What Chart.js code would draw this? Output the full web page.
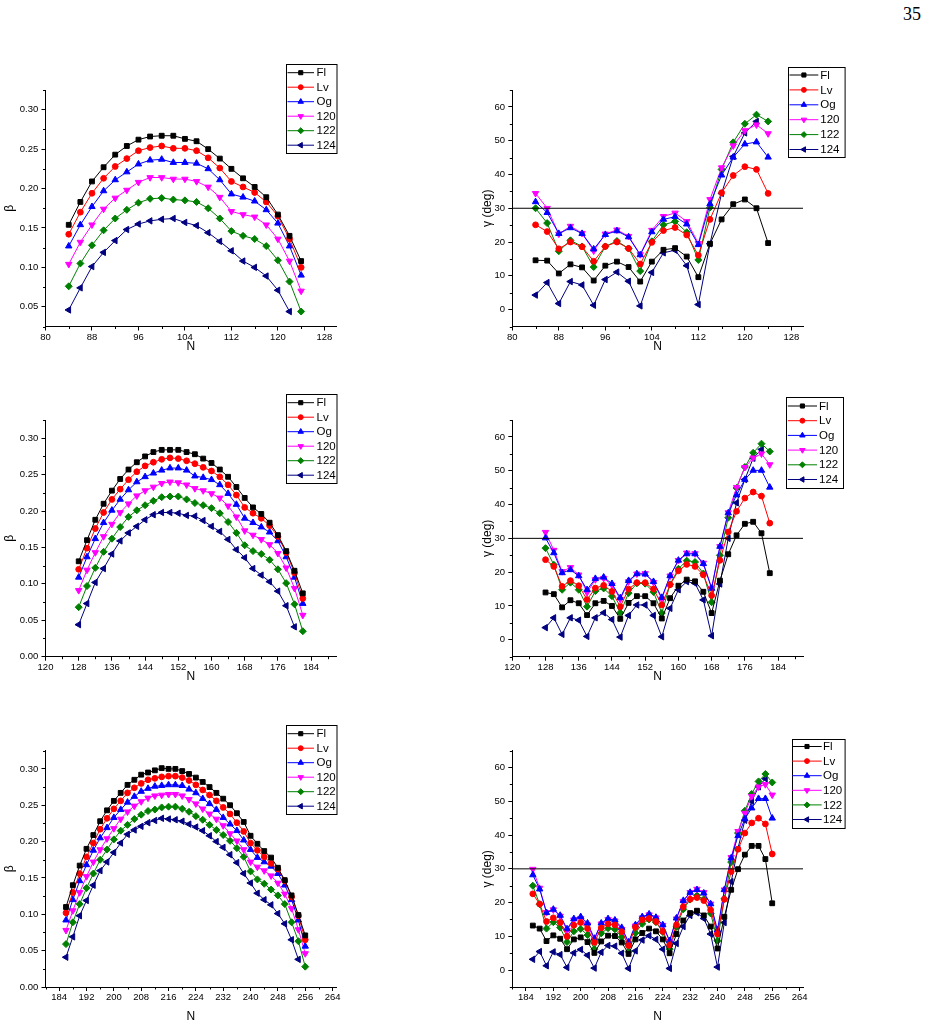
<!DOCTYPE html>
<html>
<head>
<meta charset="utf-8">
<script src="https://cdn.jsdelivr.net/npm/chart.js@4.4.0/dist/chart.umd.min.js"></script>
<style>
  body { margin: 0; background: #fff; width: 930px; height: 1027px; position: relative; overflow: hidden; }
  canvas { position: absolute; }
  #page { position: absolute; left: 903px; top: 4px; font: 18px "Liberation Serif", "DejaVu Serif", serif; color: #000; }
</style>
</head>
<body>
<div id="page">35</div>
<canvas id="c1" width="350" height="302" style="left:0px;top:55px"></canvas>
<canvas id="c2" width="395" height="302" style="left:460px;top:55px"></canvas>
<canvas id="c3" width="350" height="302" style="left:0px;top:385px"></canvas>
<canvas id="c4" width="395" height="302" style="left:460px;top:385px"></canvas>
<canvas id="c5" width="350" height="312" style="left:0px;top:715px"></canvas>
<canvas id="c6" width="395" height="312" style="left:460px;top:715px"></canvas>
<script>
// neutron numbers for the three chains
const nA = [84, 86, 88, 90, 92, 94, 96, 98, 100, 102, 104, 106, 108, 110, 112, 114, 116, 118, 120, 122, 124];
const nB = [128, 130, 132, 134, 136, 138, 140, 142, 144, 146, 148, 150, 152, 154, 156, 158, 160, 162, 164, 166, 168, 170, 172, 174, 176, 178, 180, 182];
const nC = [186, 188, 190, 192, 194, 196, 198, 200, 202, 204, 206, 208, 210, 212, 214, 216, 218, 220, 222, 224, 226, 228, 230, 232, 234, 236, 238, 240, 242, 244, 246, 248, 250, 252, 254, 256];

const seriesNames = ['Fl', 'Lv', 'Og', '120', '122', '124'];

// beta, first chain
const betaA_Fl  = [0.154, 0.183, 0.209, 0.227, 0.243, 0.254, 0.262, 0.266, 0.267, 0.267, 0.263, 0.260, 0.250, 0.238, 0.225, 0.213, 0.202, 0.189, 0.167, 0.140, 0.108];
const betaA_Lv  = [0.142, 0.170, 0.194, 0.213, 0.228, 0.238, 0.248, 0.252, 0.254, 0.251, 0.251, 0.248, 0.239, 0.226, 0.209, 0.202, 0.195, 0.183, 0.165, 0.136, 0.100];
const betaA_Og  = [0.127, 0.154, 0.177, 0.197, 0.211, 0.221, 0.231, 0.236, 0.237, 0.233, 0.233, 0.232, 0.225, 0.211, 0.193, 0.189, 0.184, 0.173, 0.156, 0.127, 0.090];
const betaA_120 = [0.104, 0.132, 0.154, 0.174, 0.188, 0.198, 0.208, 0.214, 0.214, 0.212, 0.212, 0.209, 0.202, 0.189, 0.171, 0.167, 0.164, 0.154, 0.136, 0.108, 0.070];
const betaA_122 = [0.076, 0.105, 0.128, 0.147, 0.162, 0.173, 0.182, 0.187, 0.188, 0.186, 0.185, 0.183, 0.175, 0.162, 0.146, 0.140, 0.136, 0.127, 0.109, 0.082, 0.044];
const betaA_124 = [0.046, 0.074, 0.101, 0.119, 0.134, 0.148, 0.155, 0.159, 0.161, 0.162, 0.157, 0.153, 0.144, 0.133, 0.121, 0.108, 0.100, 0.089, 0.071, 0.044];

// gamma, first chain
const gammaA_Fl  = [14.6, 14.5, 10.7, 13.4, 12.5, 8.6, 13.0, 14.2, 12.6, 8.3, 14.2, 17.7, 18.2, 15.7, 9.6, 19.5, 26.7, 31.2, 32.6, 30.0, 19.7];
const gammaA_Lv  = [25.1, 23.1, 18.0, 20.0, 18.6, 14.3, 18.7, 20.0, 18.1, 13.5, 19.9, 23.4, 24.3, 22.1, 16.1, 26.7, 34.6, 39.7, 42.3, 41.5, 34.4];
const gammaA_Og  = [31.9, 28.7, 22.5, 24.2, 22.5, 17.9, 22.2, 23.3, 21.5, 16.2, 23.0, 26.7, 27.5, 25.3, 19.2, 31.3, 39.8, 45.1, 49.0, 49.6, 45.1];
const gammaA_120 = [34.4, 30.0, 22.4, 24.7, 22.6, 17.4, 22.4, 23.6, 21.7, 16.3, 23.5, 27.6, 28.6, 26.1, 19.6, 32.6, 42.0, 48.5, 53.0, 54.7, 52.1];
const gammaA_122 = [30.0, 25.6, 17.3, 20.5, 18.7, 12.6, 18.7, 20.3, 18.1, 11.4, 20.2, 25.1, 26.1, 22.9, 14.7, 30.2, 41.5, 49.5, 55.0, 57.7, 55.7];
const gammaA_124 = [4.3, 8.0, 1.8, 8.3, 7.3, 1.3, 8.9, 11.1, 8.4, 1.1, 11.0, 16.8, 17.6, 13.0, 1.5, 19.5, 34.4, 45.3, 52.3, 55.7];

// beta, second chain
const betaB_Fl  = [0.131, 0.160, 0.188, 0.210, 0.228, 0.244, 0.257, 0.267, 0.275, 0.281, 0.284, 0.284, 0.284, 0.281, 0.278, 0.272, 0.266, 0.257, 0.247, 0.233, 0.218, 0.205, 0.196, 0.184, 0.167, 0.145, 0.118, 0.087];
const betaB_Lv  = [0.120, 0.149, 0.176, 0.198, 0.216, 0.230, 0.243, 0.254, 0.262, 0.267, 0.271, 0.273, 0.272, 0.269, 0.265, 0.260, 0.255, 0.247, 0.236, 0.222, 0.205, 0.197, 0.190, 0.180, 0.165, 0.143, 0.115, 0.080];
const betaB_Og  = [0.109, 0.137, 0.162, 0.184, 0.201, 0.216, 0.229, 0.240, 0.247, 0.252, 0.256, 0.259, 0.259, 0.256, 0.248, 0.246, 0.243, 0.236, 0.224, 0.209, 0.190, 0.184, 0.178, 0.171, 0.159, 0.137, 0.109, 0.073];
const betaB_120 = [0.091, 0.119, 0.143, 0.165, 0.182, 0.198, 0.210, 0.221, 0.228, 0.233, 0.238, 0.240, 0.239, 0.236, 0.231, 0.228, 0.224, 0.218, 0.207, 0.192, 0.173, 0.167, 0.161, 0.154, 0.142, 0.122, 0.094, 0.057];
const betaB_122 = [0.068, 0.097, 0.122, 0.144, 0.162, 0.178, 0.192, 0.201, 0.208, 0.214, 0.219, 0.220, 0.220, 0.216, 0.211, 0.208, 0.204, 0.197, 0.185, 0.170, 0.153, 0.145, 0.141, 0.133, 0.120, 0.101, 0.072, 0.035];
const betaB_124 = [0.044, 0.073, 0.102, 0.121, 0.141, 0.159, 0.170, 0.179, 0.188, 0.195, 0.198, 0.198, 0.197, 0.194, 0.193, 0.187, 0.179, 0.172, 0.161, 0.147, 0.136, 0.121, 0.112, 0.103, 0.090, 0.070, 0.041];

// gamma, second chain
const gammaB_Fl  = [14.0, 13.5, 9.6, 11.7, 10.8, 7.3, 10.8, 11.5, 10.0, 6.2, 10.9, 12.9, 12.9, 10.8, 6.3, 12.3, 16.0, 17.8, 17.3, 14.2, 7.9, 17.5, 25.3, 30.9, 34.3, 34.9, 31.5, 19.7];
const gammaB_Lv  = [23.7, 21.7, 15.8, 17.5, 16.0, 11.9, 15.3, 16.1, 14.3, 9.8, 15.0, 16.9, 16.9, 15.0, 10.3, 16.3, 20.4, 22.3, 21.7, 19.2, 13.1, 23.5, 31.9, 38.0, 41.9, 43.7, 42.5, 34.5];
const gammaB_Og  = [30.1, 25.7, 19.8, 20.7, 18.9, 14.8, 18.1, 18.5, 16.6, 12.4, 17.5, 19.5, 19.4, 17.2, 12.5, 18.9, 23.5, 25.4, 25.4, 22.5, 15.2, 27.6, 37.5, 42.8, 47.4, 50.1, 50.1, 45.1];
const gammaB_120 = [31.8, 26.5, 20.2, 21.4, 19.2, 14.0, 17.8, 18.2, 16.2, 12.0, 17.2, 19.5, 19.6, 17.0, 12.1, 18.9, 23.5, 25.7, 25.5, 22.7, 15.3, 27.6, 37.6, 45.1, 51.0, 53.8, 55.0, 51.8];
const gammaB_122 = [27.1, 22.2, 14.8, 16.9, 14.8, 9.8, 14.4, 15.2, 12.9, 8.0, 13.8, 16.7, 16.6, 14.1, 7.9, 16.4, 21.0, 23.4, 23.0, 19.6, 11.1, 25.0, 36.1, 44.9, 51.1, 55.3, 58.0, 55.7];
const gammaB_124 = [3.6, 6.5, 1.6, 6.5, 5.8, 1.0, 6.5, 8.0, 6.0, 0.8, 7.2, 10.3, 10.3, 7.2, 0.9, 9.3, 14.8, 17.2, 16.7, 11.8, 1.2, 16.5, 30.0, 40.5, 47.4, 53.7, 56.3];

// beta, third chain
const betaC_Fl  = [0.110, 0.140, 0.167, 0.190, 0.209, 0.228, 0.243, 0.256, 0.267, 0.278, 0.285, 0.292, 0.295, 0.298, 0.301, 0.300, 0.300, 0.297, 0.293, 0.288, 0.282, 0.275, 0.267, 0.259, 0.250, 0.239, 0.227, 0.208, 0.197, 0.187, 0.178, 0.164, 0.147, 0.126, 0.099, 0.071];
const betaC_Lv  = [0.102, 0.130, 0.156, 0.179, 0.198, 0.217, 0.232, 0.245, 0.256, 0.267, 0.274, 0.280, 0.285, 0.287, 0.289, 0.290, 0.290, 0.288, 0.284, 0.278, 0.271, 0.264, 0.256, 0.247, 0.238, 0.226, 0.214, 0.198, 0.188, 0.179, 0.170, 0.162, 0.146, 0.124, 0.098, 0.065];
const betaC_Og  = [0.092, 0.120, 0.146, 0.168, 0.188, 0.205, 0.219, 0.233, 0.244, 0.254, 0.262, 0.269, 0.273, 0.276, 0.277, 0.278, 0.278, 0.277, 0.272, 0.267, 0.259, 0.252, 0.244, 0.233, 0.224, 0.215, 0.202, 0.189, 0.178, 0.172, 0.166, 0.156, 0.140, 0.120, 0.092, 0.056];
const betaC_120 = [0.078, 0.105, 0.130, 0.152, 0.172, 0.189, 0.204, 0.218, 0.231, 0.241, 0.249, 0.255, 0.260, 0.263, 0.264, 0.265, 0.265, 0.263, 0.258, 0.252, 0.245, 0.238, 0.231, 0.222, 0.211, 0.201, 0.189, 0.172, 0.165, 0.160, 0.153, 0.143, 0.128, 0.108, 0.079, 0.046];
const betaC_122 = [0.059, 0.089, 0.114, 0.136, 0.156, 0.175, 0.189, 0.203, 0.215, 0.223, 0.231, 0.237, 0.242, 0.244, 0.247, 0.248, 0.248, 0.245, 0.241, 0.235, 0.230, 0.223, 0.216, 0.209, 0.201, 0.191, 0.179, 0.159, 0.148, 0.142, 0.134, 0.126, 0.114, 0.089, 0.063, 0.028];
const betaC_124 = [0.041, 0.069, 0.098, 0.119, 0.140, 0.160, 0.172, 0.185, 0.198, 0.210, 0.216, 0.221, 0.226, 0.229, 0.232, 0.231, 0.230, 0.228, 0.224, 0.220, 0.215, 0.208, 0.200, 0.192, 0.182, 0.171, 0.156, 0.143, 0.129, 0.120, 0.113, 0.101, 0.087, 0.065, 0.038];

// gamma, third chain
const gammaC_Fl  = [13.2, 12.3, 8.6, 10.3, 9.3, 6.2, 9.1, 9.7, 8.3, 5.1, 8.5, 10.2, 10.1, 8.2, 4.8, 9.1, 11.0, 12.3, 11.5, 9.1, 5.0, 10.7, 14.7, 16.9, 17.6, 16.2, 12.9, 6.4, 15.8, 23.8, 29.9, 34.2, 36.8, 36.8, 32.9, 19.8];
const gammaC_Lv  = [22.6, 19.6, 14.4, 15.5, 14.1, 10.0, 13.3, 14.1, 12.3, 8.2, 12.5, 13.7, 13.4, 11.4, 7.3, 12.7, 14.9, 15.3, 14.4, 11.5, 7.4, 13.4, 18.8, 21.0, 21.5, 20.6, 17.8, 10.7, 21.0, 29.2, 35.8, 40.6, 43.6, 45.0, 43.3, 34.4];
const gammaC_Og  = [28.2, 24.0, 17.0, 18.0, 16.2, 12.2, 15.2, 15.8, 13.9, 9.4, 13.9, 15.2, 14.8, 12.6, 8.3, 13.4, 15.8, 16.6, 15.6, 13.4, 8.7, 15.4, 20.6, 23.0, 23.8, 22.8, 19.6, 11.9, 23.8, 33.2, 39.8, 44.8, 48.0, 50.8, 50.8, 45.0];
const gammaC_120 = [29.9, 24.3, 17.1, 17.9, 16.0, 11.8, 14.9, 15.3, 13.4, 8.9, 13.7, 15.0, 14.6, 12.1, 8.0, 13.1, 15.5, 16.4, 15.5, 13.3, 8.5, 15.2, 20.4, 23.0, 24.0, 23.0, 19.6, 10.9, 23.8, 33.4, 41.1, 46.5, 51.5, 54.3, 55.0, 51.9];
const gammaC_122 = [25.0, 19.5, 12.3, 14.2, 12.6, 8.3, 11.5, 12.2, 10.4, 6.2, 10.9, 12.4, 12.1, 9.8, 5.5, 11.0, 13.7, 15.0, 14.2, 11.3, 6.2, 12.8, 18.0, 20.9, 22.1, 21.0, 16.8, 8.7, 21.1, 32.0, 40.6, 47.2, 52.2, 55.9, 58.1, 55.6];
const gammaC_124 = [3.2, 5.5, 1.3, 5.4, 4.6, 0.8, 5.1, 6.1, 4.4, 0.6, 5.3, 7.3, 7.1, 5.0, 0.5, 5.7, 8.9, 10.2, 9.1, 6.2, 0.5, 7.9, 12.9, 16.2, 17.0, 15.3, 10.7, 0.9, 14.1, 26.2, 36.1, 44.4, 50.0, 54.3, 56.7];

// tick labels
const nTicksA = [80, 88, 96, 104, 112, 120, 128];
const nTicksB = [120, 128, 136, 144, 152, 160, 168, 176, 184];
const nTicksC = [184, 192, 200, 208, 216, 224, 232, 240, 248, 256, 264];
const betaTicksA = [0.05, 0.10, 0.15, 0.20, 0.25, 0.30];
const betaTicksBC = [0.00, 0.05, 0.10, 0.15, 0.20, 0.25, 0.30];
const gammaTicks = [0, 10, 20, 30, 40, 50, 60];
const gammaRefLine = 30;

// marker styles per series
const seriesColors = ['#000000', '#ff0000', '#0000ff', '#ff00ff', '#008000', '#000080'];
const seriesStyles = ['rect', 'circle', 'triangle', 'triangle', 'rectRot', 'triangle'];
const seriesRotation = [0, 0, 0, 180, 0, 270];
const seriesRadius = [3.4, 2.9, 3.7, 3.7, 3.5, 3.7];

const FONT = '"Liberation Sans", Arial, sans-serif';

// minor ticks + boxed legend, drawn on top
const decorPlugin = {
    id: 'decor',
    afterDraw(chart, args, opts) {
        const ctx = chart.ctx;
        const area = chart.chartArea;
        ctx.save();
        ctx.strokeStyle = '#000';
        ctx.lineWidth = 1;
        ['x', 'y'].forEach(id => {
            const s = chart.scales[id];
            const vals = s.ticks.map(t => t.value);
            const step = vals[1] - vals[0];
            for (let k = -1; k < vals.length; k++) {
                const v = vals[0] + (k + 0.5) * step;
                if (v < s.min - 1e-9 || v > s.max + 1e-9) continue;
                ctx.beginPath();
                if (id === 'x') {
                    const px = Math.round(s.getPixelForValue(v)) + 0.5;
                    ctx.moveTo(px, area.bottom);
                    ctx.lineTo(px, area.bottom + 2.5);
                } else {
                    const py = Math.round(s.getPixelForValue(v)) + 0.5;
                    ctx.moveTo(area.left - 2.5, py);
                    ctx.lineTo(area.left, py);
                }
                ctx.stroke();
            }
        });

        const lg = opts.legend;
        const ox = opts.canvasLeft, oy = opts.canvasTop;
        const bx = Math.round(lg.x - ox) + 0.5, by = Math.round(lg.y - oy) + 0.5;
        ctx.fillStyle = '#fff';
        ctx.fillRect(bx, by, lg.w, lg.h);
        ctx.strokeStyle = '#000';
        ctx.strokeRect(bx, by, lg.w, lg.h);
        ctx.font = '11.5px ' + FONT;
        ctx.textBaseline = 'middle';
        ctx.textAlign = 'left';
        let row = 0;
        chart.data.datasets.forEach(ds => {
            if (ds.isRef) return;
            const y = lg.row0 - oy + row * lg.rowH;
            row++;
            const x0 = lg.lx0 - ox, x1 = lg.lx1 - ox;
            ctx.strokeStyle = ds.borderColor;
            ctx.lineWidth = 1;
            ctx.beginPath();
            ctx.moveTo(x0, y);
            ctx.lineTo(x1, y);
            ctx.stroke();
            ctx.fillStyle = ds.borderColor;
            Chart.helpers.drawPoint(ctx, {
                pointStyle: ds.pointStyle,
                rotation: ds.pointRotation,
                radius: ds.pointRadius * 0.85,
                borderWidth: 1
            }, (x0 + x1) / 2, y);
            ctx.fillStyle = '#000';
            ctx.fillText(ds.label, lg.tx - ox, y + 0.5);
        });
        ctx.restore();
    }
};

function buildPanel(p) {
    const datasets = p.series.map((vals, i) => ({
        label: seriesNames[i],
        data: vals.map((v, j) => ({ x: p.n[j], y: v })),
        borderColor: seriesColors[i],
        backgroundColor: seriesColors[i],
        borderWidth: 1,
        pointStyle: seriesStyles[i],
        pointRotation: seriesRotation[i],
        pointRadius: seriesRadius[i],
        pointBorderWidth: 1,
        tension: 0
    }));
    if (p.ref !== null) {
        datasets.unshift({
            label: '',
            isRef: true,
            data: [{ x: p.xMin, y: p.ref }, { x: p.xMax, y: p.ref }],
            borderColor: '#000',
            borderWidth: 1,
            pointRadius: 0,
            tension: 0
        });
    }
    const el = document.getElementById(p.id);
    const cLeft = parseFloat(el.style.left), cTop = parseFloat(el.style.top);
    const cW = el.width, cH = el.height;
    const yW = p.plot.l - cLeft;
    const xH = cTop + cH - p.plot.b;

    new Chart(el.getContext('2d'), {
        type: 'line',
        data: { datasets: datasets },
        options: {
            responsive: false,
            animation: false,
            events: [],
            layout: {
                autoPadding: false,
                padding: { left: 0, top: p.plot.t - cTop, right: cLeft + cW - p.plot.r, bottom: 0 }
            },
            plugins: {
                legend: { display: false },
                tooltip: { enabled: false },
                decor: { legend: p.legend, canvasLeft: cLeft, canvasTop: cTop }
            },
            scales: {
                x: {
                    type: 'linear',
                    min: p.xMin,
                    max: p.xMax,
                    afterBuildTicks: s => { s.ticks = p.xTicks.map(v => ({ value: v })); },
                    afterFit: s => { s.height = xH; },
                    grid: { drawOnChartArea: false, drawTicks: true, tickLength: 4, color: '#000', lineWidth: 1 },
                    border: { display: true, color: '#000', width: 1 },
                    ticks: {
                        color: '#000', padding: 1, maxRotation: 0, autoSkip: false,
                        font: { family: FONT, size: 9.5 },
                        callback: v => String(v)
                    },
                    title: {
                        display: true, text: 'N', color: '#000',
                        font: { family: FONT, size: 12 },
                        padding: { top: 0, bottom: 3 }
                    }
                },
                y: {
                    type: 'linear',
                    min: p.yMin,
                    max: p.yMax,
                    afterBuildTicks: s => { s.ticks = p.yTicks.map(v => ({ value: v })); },
                    afterFit: s => { s.width = yW; },
                    grid: { drawOnChartArea: false, drawTicks: true, tickLength: 4, color: '#000', lineWidth: 1 },
                    border: { display: true, color: '#000', width: 1 },
                    ticks: {
                        color: '#000', padding: 3.3, autoSkip: false,
                        font: { family: FONT, size: 9.5 },
                        callback: v => v.toFixed(p.digits)
                    },
                    title: {
                        display: true, text: p.yTitle, color: '#000',
                        font: { family: FONT, size: 12 },
                        padding: { top: p.titleX - cLeft - 7.2, bottom: 0 }
                    }
                }
            }
        },
        plugins: [decorPlugin]
    });
}

const legendLeft = (x, y) => ({ x: x, y: y, w: 50.5, h: 89, lx0: 287.5, lx1: 314, tx: 316.5, row0: y + 8.7, rowH: 14.5 });

const panels = [
    {
        id: 'c1', n: nA, series: [betaA_Fl, betaA_Lv, betaA_Og, betaA_120, betaA_122, betaA_124],
        xMin: 80, xMax: 130, xTicks: nTicksA, yMin: 0.025, yMax: 0.325, yTicks: betaTicksA,
        yTitle: 'β', digits: 2, ref: null, titleX: 10,
        plot: { l: 45.5, t: 90, r: 336, b: 326.5 },
        legend: legendLeft(285.5, 64)
    },
    {
        id: 'c2', n: nA, series: [gammaA_Fl, gammaA_Lv, gammaA_Og, gammaA_120, gammaA_122, gammaA_124],
        xMin: 80, xMax: 130, xTicks: nTicksA, yMin: -5, yMax: 65, yTicks: gammaTicks,
        yTitle: 'γ (deg)', digits: 0, ref: gammaRefLine, titleX: 488,
        plot: { l: 512.3, t: 90, r: 803, b: 326.5 },
        legend: { x: 787.7, y: 66.7, w: 56.6, h: 90, lx0: 789.5, lx1: 818.3, tx: 820.3, row0: 75, rowH: 14.9 }
    },
    {
        id: 'c3', n: nB, series: [betaB_Fl, betaB_Lv, betaB_Og, betaB_120, betaB_122, betaB_124],
        xMin: 120, xMax: 190, xTicks: nTicksB, yMin: 0, yMax: 0.325, yTicks: betaTicksBC,
        yTitle: 'β', digits: 2, ref: null, titleX: 10,
        plot: { l: 45.5, t: 420, r: 336, b: 656.7 },
        legend: legendLeft(285.5, 394)
    },
    {
        id: 'c4', n: nB, series: [gammaB_Fl, gammaB_Lv, gammaB_Og, gammaB_120, gammaB_122, gammaB_124],
        xMin: 120, xMax: 190, xTicks: nTicksB, yMin: -5, yMax: 65, yTicks: gammaTicks,
        yTitle: 'γ (deg)', digits: 0, ref: gammaRefLine, titleX: 488,
        plot: { l: 512.3, t: 420, r: 803, b: 656.7 },
        legend: { x: 786, y: 397.3, w: 57, h: 91, lx0: 787.8, lx1: 817, tx: 819, row0: 406, rowH: 14.7 }
    },
    {
        id: 'c5', n: nC, series: [betaC_Fl, betaC_Lv, betaC_Og, betaC_120, betaC_122, betaC_124],
        xMin: 180, xMax: 265, xTicks: nTicksC, yMin: 0, yMax: 0.325, yTicks: betaTicksBC,
        yTitle: 'β', digits: 2, ref: null, titleX: 10,
        plot: { l: 45.5, t: 750.7, r: 336, b: 987 },
        legend: legendLeft(285.5, 725)
    },
    {
        id: 'c6', n: nC, series: [gammaC_Fl, gammaC_Lv, gammaC_Og, gammaC_120, gammaC_122, gammaC_124],
        xMin: 180, xMax: 265, xTicks: nTicksC, yMin: -5, yMax: 65, yTicks: gammaTicks,
        yTitle: 'γ (deg)', digits: 0, ref: gammaRefLine, titleX: 488,
        plot: { l: 512.3, t: 750.7, r: 803, b: 987 },
        legend: { x: 791.7, y: 739.3, w: 52.6, h: 89, lx0: 792.3, lx1: 821.7, tx: 823, row0: 746.5, rowH: 14.6 }
    }
];

panels.forEach(buildPanel);
</script>
</body>
</html>
